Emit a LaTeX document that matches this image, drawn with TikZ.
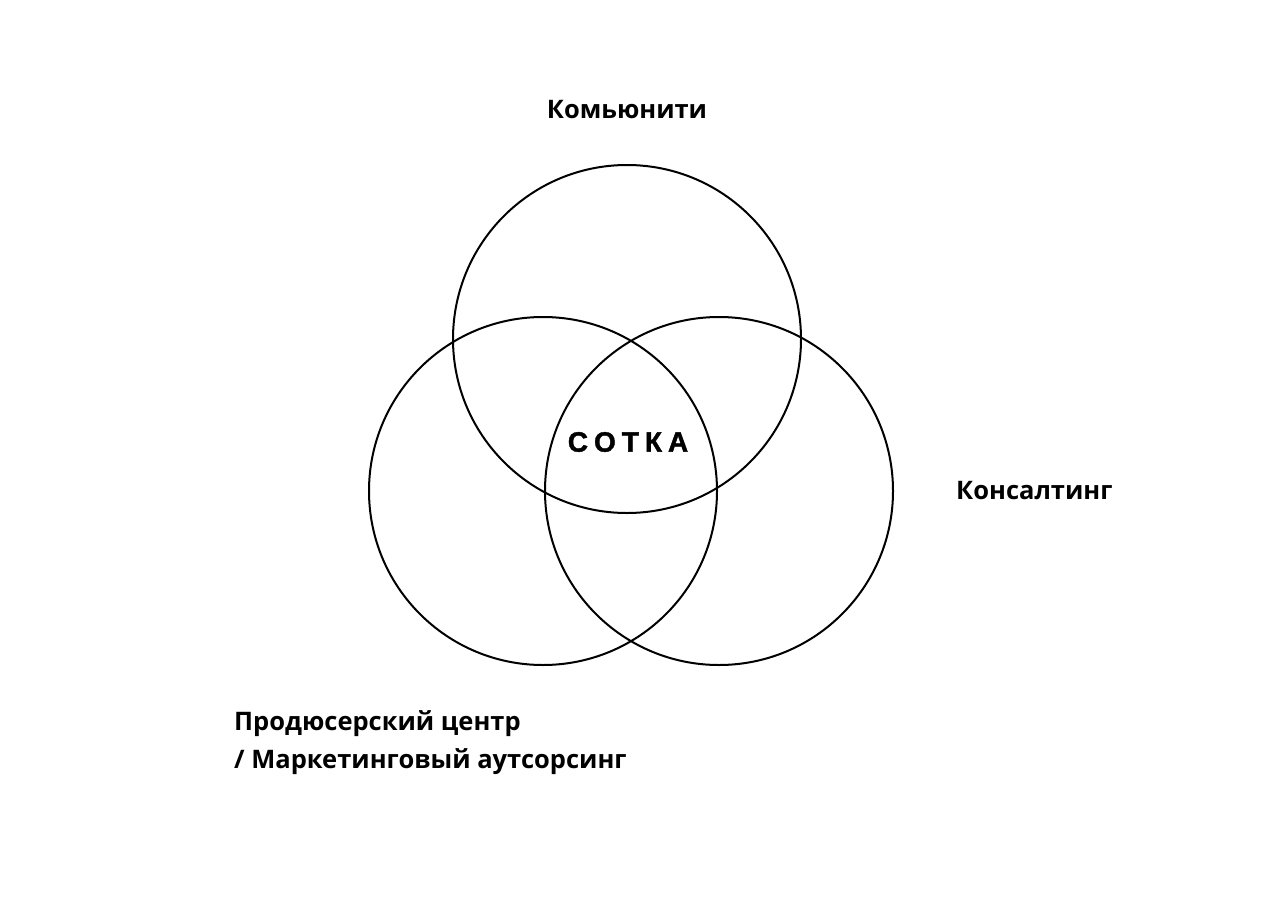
\documentclass[tikz,border=0pt]{standalone}
\usepackage{fontspec}
\setmainfont{Open Sans}
\newfontfamily\sotfont[FakeBold=1.5]{Liberation Sans}
\begin{document}
\begin{tikzpicture}[x=1pt,y=-1pt]
\tikzset{
  venn/.style={draw=black, line width=2pt},
  lbl/.style={font=\fontsize{25.5}{38}\selectfont\bfseries, inner sep=0pt},
}
\useasboundingbox[fill=white] (0,0) rectangle (1280,905);
\draw[venn] (627,339) circle (174);
\draw[venn] (543,491) circle (174);
\draw[venn] (719,491) circle (174);
\node[lbl] (komm) at (627,110) {Комьюнити};
\node[lbl, anchor=west] (kons) at (956,491) {Консалтинг};
\node[lbl, anchor=base west] (prod1) at (234,730) {Продюсерский центр};
\node[lbl, anchor=base west] (prod2) at (234,768) {/ Маркетинговый аутсорсинг};
\node[inner sep=0pt, font=\sotfont\fontsize{28}{30}\selectfont\bfseries] (sotka) at (628,442) {С\kern6pt О\kern6pt Т\kern6pt К\kern6pt А};
\end{tikzpicture}
\end{document}
